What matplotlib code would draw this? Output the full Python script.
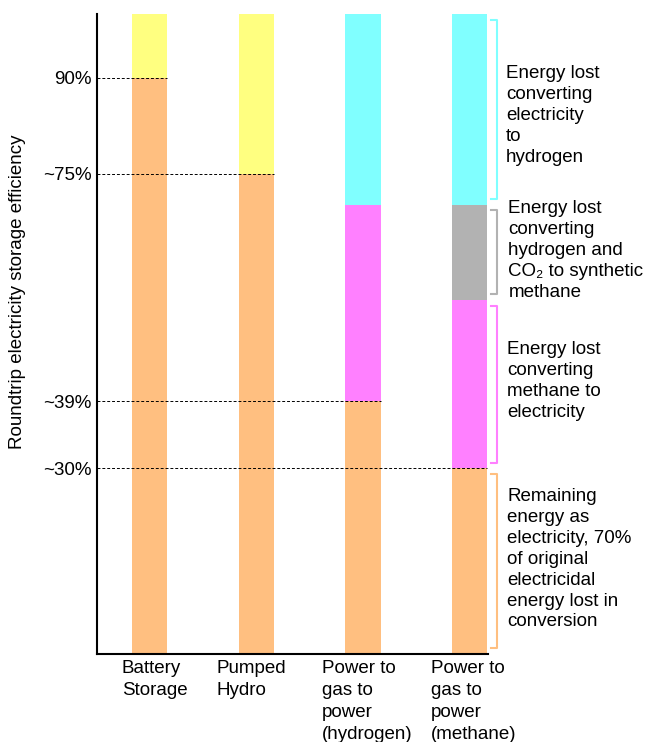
import matplotlib.pyplot as plt
import numpy as np

plt.rcParams['font.family'] = ['Liberation Sans', 'DejaVu Sans']

# data (percent of original electricity)
categories = ['Battery\nStorage', 'Pumped\nHydro', 'Power to\ngas to\npower\n(hydrogen)',
              'Power to\ngas to\npower\n(methane)']
remaining = [90, 75, 39.5, 29]
storage_loss = [10, 25, 0, 0]          # yellow
h2_loss = [0, 0, 29.8, 29.8]           # cyan (electricity -> hydrogen)
ch4_synth_loss = [0, 0, 0, 14.9]       # gray (hydrogen + CO2 -> methane)
gen_loss = [0, 0, 30.7, 26.3]          # magenta (gas -> electricity)

tick_vals = [90, 75, 39.5, 29]
tick_labels = ['90%', '~75%', '~39%', '~30%']

notes = ['Energy lost\nconverting\nelectricity\nto\nhydrogen',
         'Energy lost\nconverting\nhydrogen and\nCO\u2082 to synthetic\nmethane',
         'Energy lost\nconverting\nmethane to\nelectricity',
         'Remaining\nenergy as\nelectricity, 70%\nof original\nelectricidal\nenergy lost in\nconversion']

c_orange = '#ffbf80'
c_yellow = '#ffff80'
c_cyan = '#80ffff'
c_gray = '#b2b2b2'
c_mag = '#ff80ff'

FS = 13.5

fig = plt.figure(figsize=(6.46, 7.42), dpi=100)
ax = fig.add_axes([97 / 646, 1 - 654 / 742, 391 / 646, 640 / 742])

x = np.arange(len(categories))
w = 0.33
rem = np.array(remaining)
gl = np.array(gen_loss)
cs = np.array(ch4_synth_loss)
hl = np.array(h2_loss)
sl = np.array(storage_loss)

ax.bar(x, rem, w, color=c_orange)
ax.bar(x, gl, w, bottom=rem, color=c_mag)
ax.bar(x, cs, w, bottom=rem + gl, color=c_gray)
ax.bar(x, hl, w, bottom=rem + gl + cs, color=c_cyan)
ax.bar(x, sl, w, bottom=rem + gl + cs + hl, color=c_yellow)

ax.set_xlim(-0.49, 3.17)
ax.set_ylim(0, 100)

# dashed guide lines to the top of each bar's remaining part
for i, v in enumerate(tick_vals):
    ax.plot([-0.49, x[i] + w / 2], [v, v], color='black', lw=0.7,
            ls=(0, (3, 2)), zorder=3)

ax.set_yticks(tick_vals)
ax.set_yticklabels(tick_labels, fontsize=FS)
ax.tick_params(axis='y', length=0, pad=4)
ax.set_xticks([])

for s in ['top', 'right']:
    ax.spines[s].set_visible(False)
ax.spines['left'].set_linewidth(1.5)
ax.spines['bottom'].set_linewidth(1.5)

fig.text(18 / 646, 1 - 292 / 742, 'Roundtrip electricity storage efficiency',
         rotation=90, ha='center', va='center', fontsize=FS)

# category labels below the axis
label_x = [122, 217, 322, 431]
for lx, lab in zip(label_x, categories):
    fig.text(lx / 646, 1 - 660 / 742, lab, ha='left', va='top', fontsize=FS,
             linespacing=1.38)

# brackets and notes for the methane bar
seg_bottoms = [rem[3] + gl[3] + cs[3], rem[3] + gl[3], rem[3], 0]
seg_tops = [100, rem[3] + gl[3] + cs[3], rem[3] + gl[3], rem[3]]
seg_colors = [c_cyan, c_gray, c_mag, c_orange]
text_x = [3.34, 3.36, 3.35, 3.35]
text_dy = [-1.0, 0.3, 0.5, 0.3]
for b, t, c, n, tx, dy in zip(seg_bottoms, seg_tops, seg_colors, notes, text_x, text_dy):
    y0, y1 = b + 0.9, t - 0.9
    ax.plot([3.2, 3.25, 3.25, 3.2], [y1, y1, y0, y0], color=c, lw=1.5,
            clip_on=False)
    ax.text(tx, (y0 + y1) / 2 + dy, n, ha='left', va='center', fontsize=FS,
            linespacing=1.3, clip_on=False)

fig.savefig('out.png', dpi=100)
